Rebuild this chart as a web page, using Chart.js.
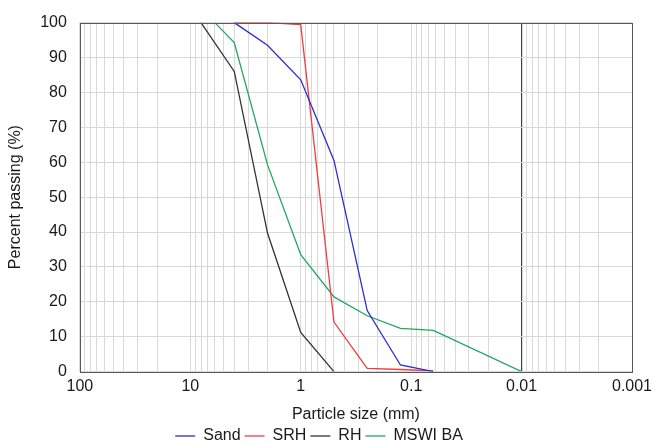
<!DOCTYPE html>
<html>
<head>
<meta charset="utf-8">
<script src="https://cdn.jsdelivr.net/npm/chart.js@4/dist/chart.umd.min.js"></script>
<style>
  html, body { margin: 0; padding: 0; background: #fff; }
  #wrap { width: 655px; height: 444px; }
</style>
</head>
<body>
<div id="wrap"><canvas id="chart" width="655" height="444"></canvas></div>
<script>
// particle sizes (mm) and percent passing
const sandSize = [4, 2, 1, 0.5, 0.25, 0.125, 0.063];
const sandPass = [100, 93.5, 83.6, 60.5, 17.5, 1.9, 0];

const srhSize = [4, 2, 1, 0.5, 0.25, 0.125, 0.063];
const srhPass = [100, 100, 99.4, 14.2, 0.9, 0.6, 0.2];

const rhSize = [8, 4, 2, 1, 0.5];
const rhPass = [100, 86, 39.7, 11.2, 0];

const bashSize = [6, 4, 2, 1, 0.5, 0.25, 0.125, 0.063, 0.01];
const bashPass = [100, 94.3, 59.3, 33.5, 21.4, 16, 12.4, 11.8, 0];

const xDecades = [100, 10, 1, 0.1, 0.01, 0.001];
const yTicks = [0, 10, 20, 30, 40, 50, 60, 70, 80, 90, 100];

const FONT = "'Liberation Sans', Arial, sans-serif";
const FS = 16;

function pts(xs, ys) {
  return xs.map((x, i) => ({x: x, y: ys[i]}));
}

function series(label, xs, ys, color) {
  return {
    label: label,
    data: pts(xs, ys),
    borderColor: color,
    backgroundColor: color,
    borderWidth: 1.3,
    pointRadius: 0,
    pointStyle: 'line',
    tension: 0,
  };
}

// box round the plot area
const frame = {
  id: 'frame',
  afterDraw(chart) {
    const a = chart.chartArea;
    const ctx = chart.ctx;
    ctx.save();
    ctx.strokeStyle = '#595959';
    ctx.lineWidth = 1;
    ctx.strokeRect(Math.round(a.left) + 0.5, Math.round(a.top) + 0.5,
      Math.round(a.right - a.left), Math.round(a.bottom - a.top));
    ctx.restore();
  }
};

function isDecade(v) {
  const l = Math.log10(v);
  return Math.abs(l - Math.round(l)) < 1e-9;
}

const ctx = document.getElementById('chart').getContext('2d');
new Chart(ctx, {
  type: 'line',
  data: {
    datasets: [
      series('Sand', sandSize, sandPass, '#2b2bd9'),
      series('SRH', srhSize, srhPass, '#f03c3c'),
      series('RH', rhSize, rhPass, '#333333'),
      series('MSWI BA', bashSize, bashPass, '#1fa860'),
    ]
  },
  options: {
    responsive: false,
    animation: false,
    layout: {padding: {top: 8, right: 23, left: 6, bottom: -10}},
    scales: {
      x: {
        type: 'logarithmic',
        reverse: true,
        min: 0.001,
        max: 100,
        afterBuildTicks(scale) {
          const t = [];
          xDecades.slice(1).forEach(d => {
            for (let k = 1; k <= 9; k++) t.push({value: +(d * k).toPrecision(6)});
          });
          t.push({value: 100});
          scale.ticks = t;
        },
        grid: {
          drawTicks: false,
          color: c => (c.tick && Math.abs(c.tick.value - 0.01) < 1e-9) ? '#404040' : '#d9d9d9',
          lineWidth: c => (c.tick && Math.abs(c.tick.value - 0.01) < 1e-9) ? 1.2 : 1,
        },
        border: {display: false},
        ticks: {
          autoSkip: false,
          maxRotation: 0,
          padding: 5,
          color: '#1a1a1a',
          font: {family: FONT, size: FS},
          callback: v => isDecade(v) ? String(+v.toPrecision(3)) : '',
        },
        title: {
          display: true,
          text: 'Particle size (mm)',
          color: '#1a1a1a',
          font: {family: FONT, size: FS},
          padding: {top: 4, bottom: 0},
        }
      },
      y: {
        min: 0,
        max: 100,
        afterBuildTicks(scale) {
          scale.ticks = yTicks.map(v => ({value: v}));
        },
        grid: {drawTicks: false, color: '#d9d9d9'},
        border: {display: false},
        ticks: {
          padding: 13,
          color: '#1a1a1a',
          font: {family: FONT, size: FS},
        },
        title: {
          display: true,
          text: 'Percent passing (%)',
          color: '#1a1a1a',
          font: {family: FONT, size: FS},
          padding: {top: 0, bottom: 2},
        }
      }
    },
    plugins: {
      legend: {
        display: true,
        position: 'bottom',
        labels: {
          usePointStyle: true,
          pointStyleWidth: 20,
          boxHeight: 1,
          padding: 4,
          color: '#1a1a1a',
          font: {family: FONT, size: FS},
        }
      },
      tooltip: {enabled: false}
    }
  },
  plugins: [frame]
});
</script>
</body>
</html>
